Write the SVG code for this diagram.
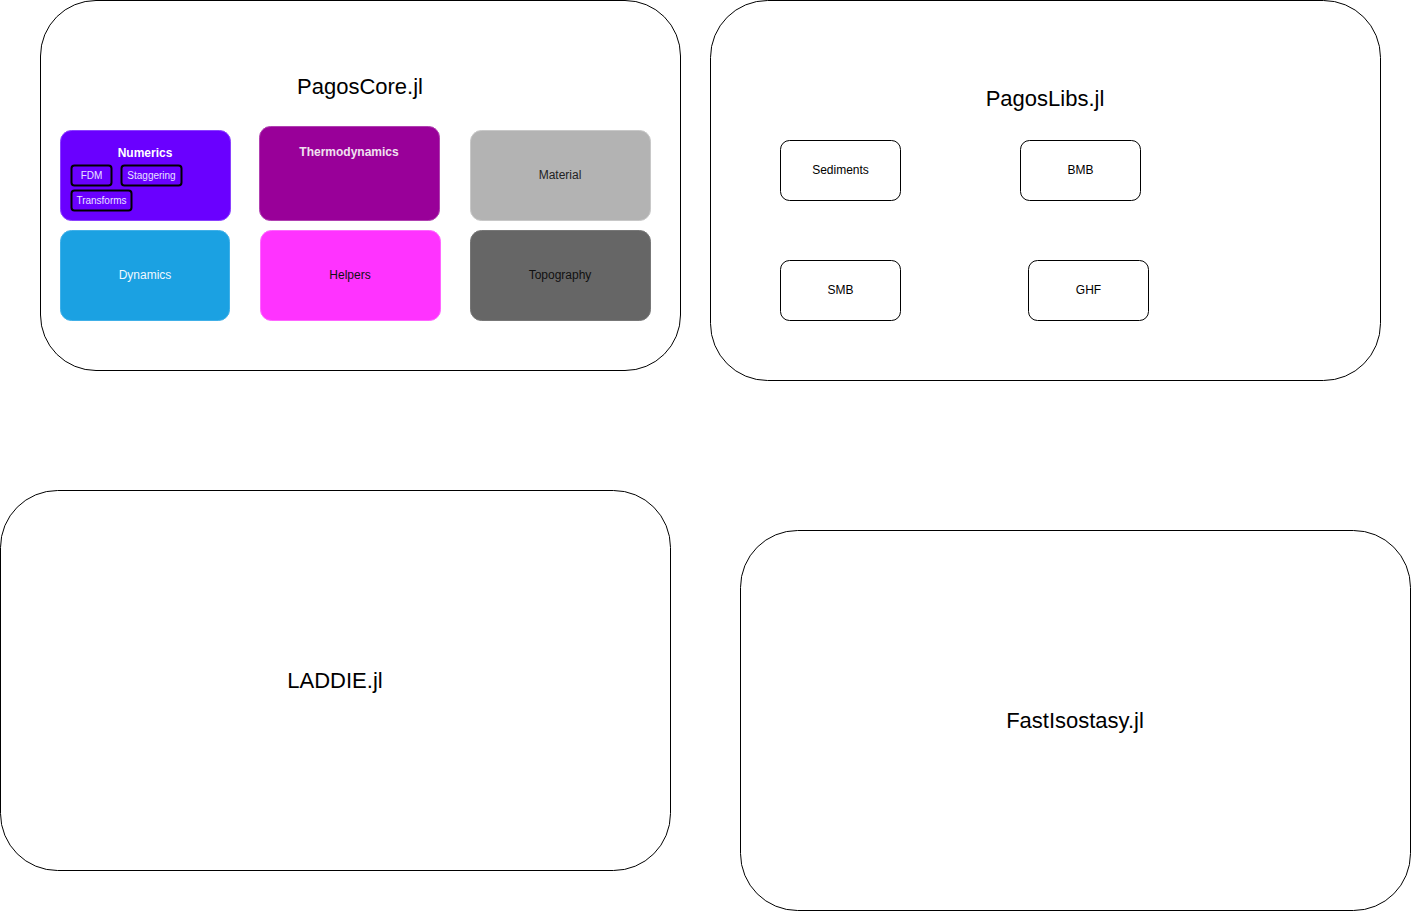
<svg xmlns="http://www.w3.org/2000/svg" width="1411" height="911" viewBox="0 0 1411 911">
<style>
.c{fill:#fff;stroke:#000;stroke-width:1}
.t{font-family:"Liberation Sans",Arial,sans-serif;text-anchor:middle;dominant-baseline:central}
.big{font-size:22px;fill:#000}
.m{font-size:12px}
.s{font-size:10px}
.lib{fill:#fff;stroke:#000;stroke-width:1}
.sub{fill:#6a00ff;stroke:#000;stroke-width:2}
</style>
<rect width="1411" height="911" fill="#fff"/>
<g id="pagoscore">
<rect class="c" x="40.5" y="0.5" width="640" height="370" rx="55.5"/>
<text class="t big" x="360" y="86">PagosCore.jl</text>
</g>
<g id="pagoslibs">
<rect class="c" x="710.5" y="0.5" width="670" height="380" rx="57"/>
<text class="t big" x="1045" y="98">PagosLibs.jl</text>
</g>
<g id="laddie">
<rect class="c" x="0.5" y="490.5" width="670" height="380" rx="57"/>
<text class="t big" x="335" y="680">LADDIE.jl</text>
</g>
<g id="fastisostasy">
<rect class="c" x="740.5" y="530.5" width="670" height="380" rx="57"/>
<text class="t big" x="1075" y="720">FastIsostasy.jl</text>
</g>
<g id="numerics">
<rect x="60.5" y="130.5" width="170" height="90" rx="11" fill="#6a00ff" stroke="#8a40ff"/>
<text class="t m" x="145" y="153" fill="#fff" font-weight="bold">Numerics</text>
</g>
<g id="fdm">
<rect class="sub" x="71.5" y="165.5" width="40" height="20" rx="3"/>
<text class="t s" x="91.5" y="175.5" fill="#e8e0ff">FDM</text>
</g>
<g id="staggering">
<rect class="sub" x="121.5" y="165.5" width="60" height="20" rx="3"/>
<text class="t s" x="151.5" y="175.5" fill="#e8e0ff">Staggering</text>
</g>
<g id="transforms">
<rect class="sub" x="71.5" y="190.5" width="60" height="20" rx="3"/>
<text class="t s" x="101.5" y="200.5" fill="#e8e0ff">Transforms</text>
</g>
<g id="thermodynamics">
<rect x="259.5" y="126.5" width="180" height="94" rx="11" fill="#990099" stroke="#b040b0"/>
<text class="t m" x="349" y="152" fill="#f0e0f0" font-weight="bold">Thermodynamics</text>
</g>
<g id="material">
<rect x="470.5" y="130.5" width="180" height="90" rx="11" fill="#b3b3b3" stroke="#c8c8c8"/>
<text class="t m" x="560" y="175" fill="#222">Material</text>
</g>
<g id="dynamics">
<rect x="60.5" y="230.5" width="169" height="90" rx="11" fill="#1ba1e2" stroke="#40b0e8"/>
<text class="t m" x="145" y="275" fill="#f0f8ff">Dynamics</text>
</g>
<g id="helpers">
<rect x="260.5" y="230.5" width="180" height="90" rx="11" fill="#ff33ff" stroke="#ff66ff"/>
<text class="t m" x="350" y="275" fill="#111">Helpers</text>
</g>
<g id="topography">
<rect x="470.5" y="230.5" width="180" height="90" rx="11" fill="#666666" stroke="#777"/>
<text class="t m" x="560" y="275" fill="#111">Topography</text>
</g>
<g id="sediments">
<rect class="lib" x="780.5" y="140.5" width="120" height="60" rx="9"/>
<text class="t m" x="840.5" y="170">Sediments</text>
</g>
<g id="bmb">
<rect class="lib" x="1020.5" y="140.5" width="120" height="60" rx="9"/>
<text class="t m" x="1080.5" y="170">BMB</text>
</g>
<g id="smb">
<rect class="lib" x="780.5" y="260.5" width="120" height="60" rx="9"/>
<text class="t m" x="840.5" y="290">SMB</text>
</g>
<g id="ghf">
<rect class="lib" x="1028.5" y="260.5" width="120" height="60" rx="9"/>
<text class="t m" x="1088.5" y="290">GHF</text>
</g>
<g id="connectors"></g>
</svg>
